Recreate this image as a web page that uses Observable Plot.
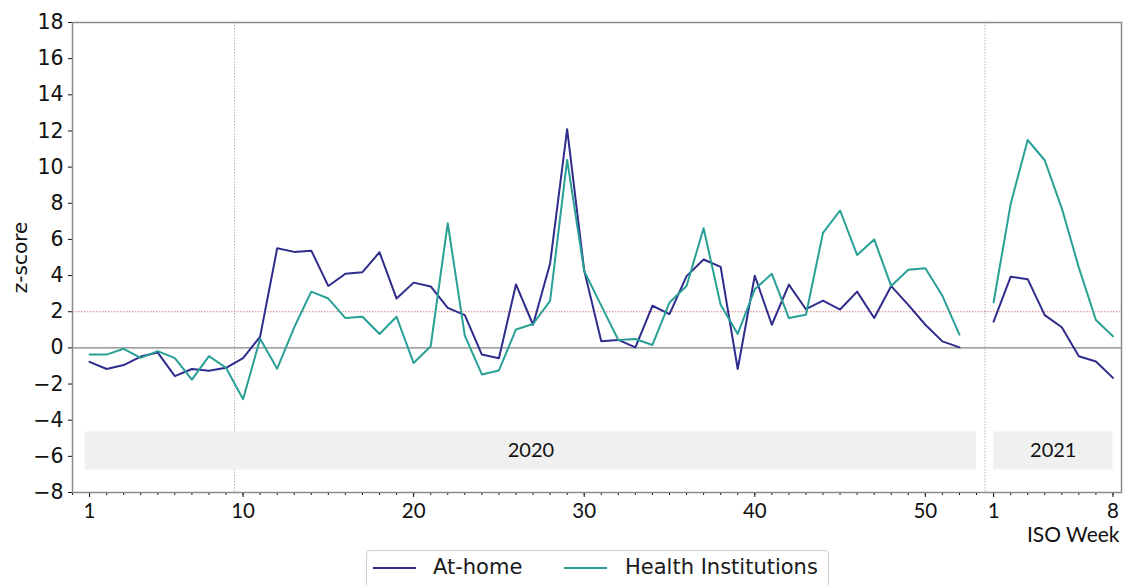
<!DOCTYPE html>
<html>
<head>
<meta charset="utf-8">
<script src="https://cdn.jsdelivr.net/npm/d3@7"></script>
<script src="https://cdn.jsdelivr.net/npm/@observablehq/plot@0.6"></script>
<style>
  body { margin: 0; background: #fff; }
  #wrap { position: relative; width: 1127px; height: 585px; overflow: hidden; background: #fff; }
  #chart svg { display: block; }
  #chart g[aria-label="y-axis tick label"] { font-size: 20.5px; font-family: "DejaVu Sans"; }
  #chart g[aria-label="x-axis tick label"] { font-size: 20.5px; font-family: "Lato"; }
  .legend { position: absolute; left: 366px; top: 550px; width: 461px; height: 60px;
            border: 1px solid #cccccc; border-radius: 4px; background: #fff;
            font-family: "DejaVu Sans", sans-serif; font-size: 21px; color: #1a1a1a; }
  .legend .sw { position: absolute; top: 16px; height: 2px; width: 43px; }
  .legend .lb { position: absolute; top: 6px; line-height: 21px; white-space: nowrap; }
</style>
</head>
<body>
<div id="wrap"><div id="chart"></div></div>
<script>
// ---------- data ----------
const seriesNames = ["At-home", "Health Institutions"];
const seriesColors = ["#2f2c8c", "#28a096"];

const weeks2020 = [1,2,3,4,5,6,7,8,9,10,11,12,13,14,15,16,17,18,19,20,21,22,23,24,25,26,
                   27,28,29,30,31,32,33,34,35,36,37,38,39,40,41,42,43,44,45,46,47,48,49,50,51,52];
const atHome2020 = [-0.77,-1.17,-0.95,-0.48,-0.26,-1.56,-1.17,-1.26,-1.10,-0.57,0.62,5.51,5.31,5.38,
                    3.42,4.10,4.19,5.29,2.73,3.61,3.40,2.21,1.81,-0.37,-0.57,3.51,1.28,4.67,12.10,
                    4.28,0.37,0.44,0.03,2.33,1.87,3.97,4.89,4.48,-1.17,3.99,1.28,3.50,2.14,2.62,
                    2.12,3.11,1.65,3.42,2.38,1.28,0.36,0.03];
const health2020 = [-0.37,-0.37,-0.05,-0.55,-0.18,-0.57,-1.76,-0.46,-1.10,-2.84,0.51,-1.15,1.14,3.11,
                    2.73,1.65,1.72,0.77,1.72,-0.84,0.09,6.90,0.68,-1.47,-1.25,1.02,1.32,2.60,10.40,
                    4.25,2.34,0.44,0.49,0.16,2.51,3.42,6.62,2.38,0.77,3.24,4.10,1.65,1.83,6.36,
                    7.60,5.14,6.00,3.42,4.32,4.40,2.88,0.73];
const weeks2021 = [1,2,3,4,5,6,7,8];
const atHome2021 = [1.45,3.93,3.80,1.81,1.14,-0.46,-0.75,-1.66];
const health2021 = [2.51,7.95,11.50,10.38,7.72,4.44,1.54,0.64];

const isoWeeksIn2020 = 53;            // 2020 has an ISO week 53
const threshold = 2;                   // red dotted alert line
const markerWeeks = [9.5, 53.5];       // grey dotted vertical markers (continuous week index)
const bandYears = ["2020", "2021"];
const bandStartIdx = [0.75, 54];
const bandEndIdx = [53, 61];
const bandTop = -4.65, bandBottom = -6.75, bandMid = -5.7;

const yTicks = [-8,-6,-4,-2,0,2,4,6,8,10,12,14,16,18];
const xTickIdx = [1,10,20,30,40,50,54,61];
const xTickLabels = ["1","10","20","30","40","50","1","8"];
const yLabel = "z-score";
const xLabel = "ISO Week";

// ---------- build table ----------
const rows = [];
weeks2020.forEach((w, i) => {
  rows.push({year: 2020, idx: w, series: seriesNames[0], value: atHome2020[i]});
});
weeks2021.forEach((w, i) => {
  rows.push({year: 2021, idx: isoWeeksIn2020 + w, series: seriesNames[0], value: atHome2021[i]});
});
weeks2020.forEach((w, i) => {
  rows.push({year: 2020, idx: w, series: seriesNames[1], value: health2020[i]});
});
weeks2021.forEach((w, i) => {
  rows.push({year: 2021, idx: isoWeeksIn2020 + w, series: seriesNames[1], value: health2021[i]});
});
const bands = bandYears.map((y, i) => ({year: y, x1: bandStartIdx[i], x2: bandEndIdx[i],
                                         y1: bandTop, y2: bandBottom, ym: bandMid}));
const tickLabelMap = new Map(xTickIdx.map((d, i) => [d, xTickLabels[i]]));
const minorTicks = d3.range(0, 62);

const chart = Plot.plot({
  width: 1127,
  height: 548,
  marginTop: 22,
  marginBottom: 56,
  marginLeft: 72,
  marginRight: 6,
  x: {domain: [0, 61.5]},
  y: {domain: [-8, 18]},
  color: {domain: seriesNames, range: seriesColors},
  style: {fontFamily: "DejaVu Sans", background: "white", color: "#111", overflow: "visible"},
  marks: [
    Plot.ruleX(markerWeeks, {stroke: "#b5b5b5", strokeWidth: 1, strokeDasharray: "1.5,1.5"}),
    Plot.rect(bands, {x1: "x1", x2: "x2", y1: "y1", y2: "y2", fill: "#f0f0f0"}),
    Plot.text(bands, {x: d => (d.x1 + d.x2) / 2, y: "ym", text: "year",
                      fontFamily: "Lato", fontSize: 20, fill: "#111"}),
    Plot.ruleY([0], {stroke: "#808080", strokeWidth: 1.4}),
    Plot.ruleY([threshold], {stroke: "#e27b7b", strokeWidth: 1, strokeDasharray: "1.5,1.5"}),
    Plot.line(rows, {x: "idx", y: "value", stroke: "series", z: d => d.series + d.year,
                     strokeWidth: 2, curve: "linear"}),
    Plot.axisY({ticks: yTicks, tickSize: 4, tickPadding: 5, fontSize: 20.5,
                tickFormat: d => d < 0 ? "\u2212" + Math.abs(d) : String(d),
                label: null}),
    Plot.axisX({ticks: minorTicks, tickSize: 3, tickFormat: () => "", label: null}),
    Plot.axisX({ticks: xTickIdx, tickSize: 5, tickPadding: 6, fontSize: 20.5, fontFamily: "Lato",
                tickFormat: d => tickLabelMap.get(d), label: null}),
    Plot.text([yLabel], {frameAnchor: "left", dx: -52, rotate: -90, text: d => d,
                         fontSize: 20, fontFamily: "DejaVu Sans", fill: "#111",
                         textAnchor: "middle", lineAnchor: "middle"}),
    Plot.text([xLabel], {frameAnchor: "bottom-right", dx: -2, dy: 43, text: d => d,
                         fontSize: 21, fontFamily: "Lato", fill: "#111",
                         textAnchor: "end", lineAnchor: "middle"}),
    Plot.frame({stroke: "#8a8a8a", strokeWidth: 1.5})
  ]
});
document.getElementById("chart").appendChild(chart);

// ---------- legend ----------
const legend = document.createElement("div");
legend.className = "legend";
const swLeft = [6, 197], lbLeft = [66, 258];
seriesNames.forEach((name, i) => {
  const sw = document.createElement("div");
  sw.className = "sw";
  sw.style.left = swLeft[i] + "px";
  sw.style.background = seriesColors[i];
  const lb = document.createElement("div");
  lb.className = "lb";
  lb.style.left = lbLeft[i] + "px";
  lb.textContent = name;
  legend.appendChild(sw);
  legend.appendChild(lb);
});
document.getElementById("wrap").appendChild(legend);
</script>
</body>
</html>
